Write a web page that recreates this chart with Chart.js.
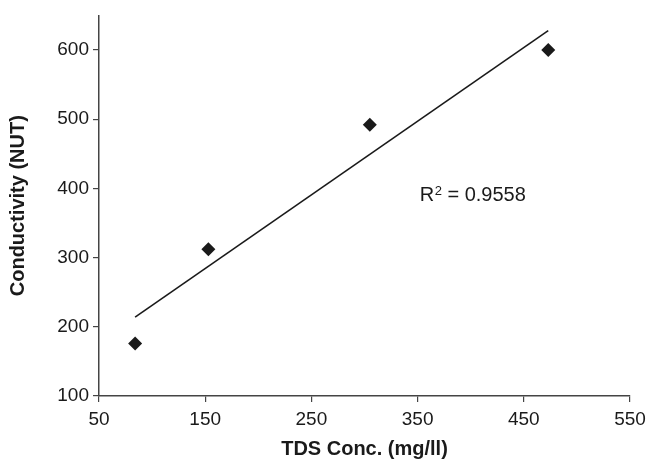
<!DOCTYPE html>
<html>
<head>
<meta charset="utf-8">
<script src="https://cdn.jsdelivr.net/npm/chart.js@4"></script>
<style>
  html, body { margin: 0; padding: 0; background: #fff; }
  #wrap { width: 650px; height: 469px; }
</style>
</head>
<body>
<div id="wrap"><canvas id="chart" width="650" height="469"></canvas></div>
<script>
// Measured points (TDS vs conductivity)
const tdsValues = [84, 153, 305, 473];
const conductivityValues = [176, 312, 492, 600];

// Trend line end points as drawn in the figure
const trendX = [84, 473];
const trendY = [214, 628];

const xTicks = [50, 150, 250, 350, 450, 550];
const yTicks = [100, 200, 300, 400, 500, 600];
const rSquaredLabel = '0.9558';

const fontFamily = '"Liberation Sans", Arial, Helvetica, sans-serif';
const ink = '#1a1a1a';

// R² text, drawn at a spot inside the plot
const rSquaredPlugin = {
  id: 'rSquared',
  afterDatasetsDraw(chart) {
    const ctx = chart.ctx;
    const x = chart.scales.x.getPixelForValue(352);
    const y = chart.scales.y.getPixelForValue(390);
    ctx.save();
    ctx.fillStyle = ink;
    ctx.textBaseline = 'middle';
    ctx.textAlign = 'left';
    ctx.font = '20px ' + fontFamily;
    ctx.fillText('R', x, y);
    let w = ctx.measureText('R').width;
    ctx.font = '13px ' + fontFamily;
    ctx.fillText('2', x + w + 0.5, y - 4);
    w += ctx.measureText('2').width + 0.5;
    ctx.font = '20px ' + fontFamily;
    ctx.fillText(' = ' + rSquaredLabel, x + w, y);
    ctx.restore();
  }
};

const ctx = document.getElementById('chart').getContext('2d');
const chart = new Chart(ctx, {
  type: 'scatter',
  data: {
    datasets: [{
      label: 'Measured',
      data: tdsValues.map((x, i) => ({x: x, y: conductivityValues[i]})),
      pointStyle: 'rectRot',
      pointRadius: 7,
      pointBackgroundColor: ink,
      pointBorderColor: ink,
      pointBorderWidth: 0,
      showLine: false
    }, {
      label: 'Linear',
      data: trendX.map((x, i) => ({x: x, y: trendY[i]})),
      showLine: true,
      borderColor: ink,
      borderWidth: 1.6,
      pointRadius: 0,
      fill: false
    }]
  },
  options: {
    responsive: false,
    animation: false,
    layout: {padding: {top: 8, right: 20, left: 0, bottom: 0}},
    plugins: {
      legend: {display: false},
      tooltip: {enabled: false}
    },
    scales: {
      x: {
        type: 'linear',
        min: 50,
        max: 550,
        afterBuildTicks: scale => { scale.ticks = xTicks.map(v => ({value: v})); },
        afterFit: scale => { scale.height = 73; scale.paddingRight = 0; },
        border: {display: true, color: '#444', width: 1.5},
        grid: {display: true, drawOnChartArea: false, drawTicks: true, tickLength: 6, color: '#444', lineWidth: 1.2},
        ticks: {color: ink, font: {family: fontFamily, size: 19}, padding: 6, maxRotation: 0},
        title: {display: true, text: 'TDS Conc. (mg/ll)', color: ink, font: {family: fontFamily, size: 20, weight: 'bold'}, padding: {top: 4, bottom: 8}}
      },
      y: {
        type: 'linear',
        min: 100,
        max: 650,
        afterBuildTicks: scale => { scale.ticks = yTicks.map(v => ({value: v})); },
        afterFit: scale => { scale.width = 99; },
        border: {display: true, color: '#444', width: 1.5},
        grid: {display: true, drawOnChartArea: false, drawTicks: true, tickLength: 6, color: '#444', lineWidth: 1.2},
        ticks: {color: ink, font: {family: fontFamily, size: 19}, padding: 4},
        title: {display: true, text: 'Conductivity (NUT)', color: ink, font: {family: fontFamily, size: 20, weight: 'bold'}, padding: {top: 6, bottom: 4}}
      }
    }
  },
  plugins: [rSquaredPlugin]
});
</script>
</body>
</html>
